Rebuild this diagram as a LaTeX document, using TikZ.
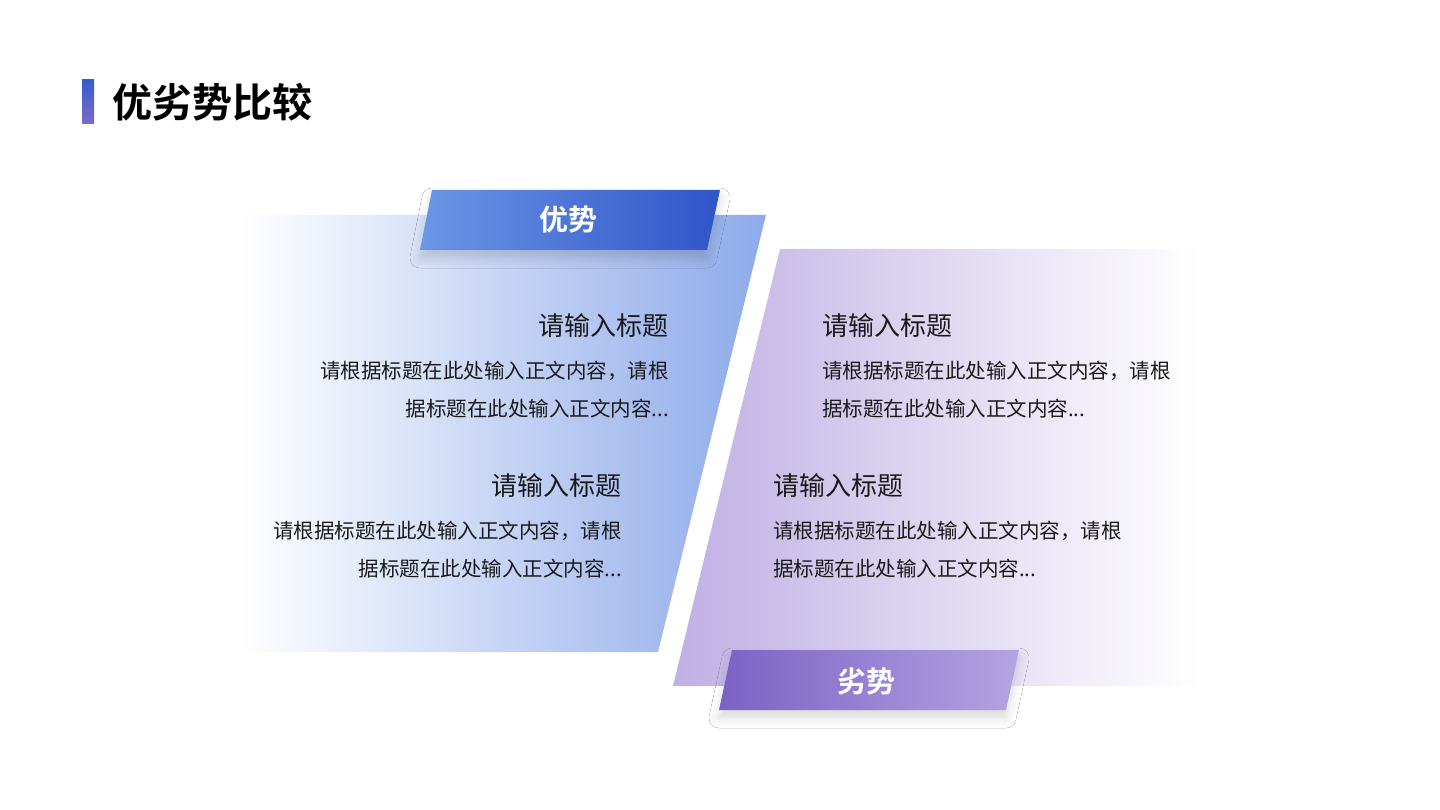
\documentclass[tikz,border=0pt]{standalone}
\usepackage{fontspec}
\setmainfont{Noto Sans CJK SC}
\newfontfamily\cjkb{Noto Sans CJK SC Bold}
\usetikzlibrary{shadows.blur}
\definecolor{bA}{HTML}{8EAAEA}
\definecolor{tA}{HTML}{6C96E6}
\definecolor{tB}{HTML}{2F55C8}
\definecolor{pA}{HTML}{BFB0E4}
\definecolor{qA}{HTML}{7A62C4}
\definecolor{qB}{HTML}{B3A4E2}
\definecolor{barA}{HTML}{3A5BD0}
\definecolor{barB}{HTML}{7B6BC8}
\definecolor{txt}{HTML}{1A1A1A}
\tikzset{
  hd/.style={font=\fontsize{26}{30}\selectfont, text=txt, inner sep=0pt},
  bd/.style={font=\fontsize{20.5}{38}\selectfont, text=txt, inner sep=0pt},
  tabt/.style={font=\cjkb\fontsize{29}{32}\selectfont, text=white, inner sep=0pt},
}
\begin{document}
\begin{tikzpicture}[x=1pt,y=-1pt]
\useasboundingbox (0,0) rectangle (1440,810);
\fill[white] (0,0) rectangle (1440,810);
% title
\shade[top color=barA, bottom color=barB] (82,80) rectangle (94,124);
\node[anchor=west, inner sep=0pt, font=\cjkb\fontsize{40}{44}\selectfont] (title) at (112,102) {优劣势比较};
% left panel
\shade[left color=white, right color=bA] (238,215) -- (766,215) -- (658,652) -- (238,652) -- cycle;
% right panel
\shade[left color=pA, right color=white] (780,249) -- (1200,249) -- (1200,686) -- (673,686) -- cycle;
% tabs
\shade[left color=tA, right color=tB, blur shadow={shadow xshift=0pt, shadow yshift=-8pt, shadow opacity=15, shadow blur radius=10pt}] (432,190) -- (720,190) -- (707,250) -- (420,250) -- cycle;
\node[tabt] (t1) at (568,220) {优势};
\shade[left color=qA, right color=qB, blur shadow={shadow xshift=0pt, shadow yshift=-8pt, shadow opacity=15, shadow blur radius=10pt}] (732,650) -- (1019,650) -- (1006,710) -- (719,710) -- cycle;
\node[tabt] (t2) at (866,682) {劣势};
% left texts
\node[hd, anchor=east] (h1) at (669,326) {请输入标题};
\node[bd, anchor=east] (b1a) at (669,371) {请根据标题在此处输入正文内容，请根};
\node[bd, anchor=east] (b1b) at (669,409) {据标题在此处输入正文内容...};
\node[hd, anchor=east] (h2) at (622,486) {请输入标题};
\node[bd, anchor=east] (b2a) at (622,531) {请根据标题在此处输入正文内容，请根};
\node[bd, anchor=east] (b2b) at (622,569) {据标题在此处输入正文内容...};
% right texts
\node[hd, anchor=west] (h3) at (822,326) {请输入标题};
\node[bd, anchor=west] (b3a) at (822,371) {请根据标题在此处输入正文内容，请根};
\node[bd, anchor=west] (b3b) at (822,409) {据标题在此处输入正文内容...};
\node[hd, anchor=west] (h4) at (773,486) {请输入标题};
\node[bd, anchor=west] (b4a) at (773,531) {请根据标题在此处输入正文内容，请根};
\node[bd, anchor=west] (b4b) at (773,569) {据标题在此处输入正文内容...};
\end{tikzpicture}
\end{document}
